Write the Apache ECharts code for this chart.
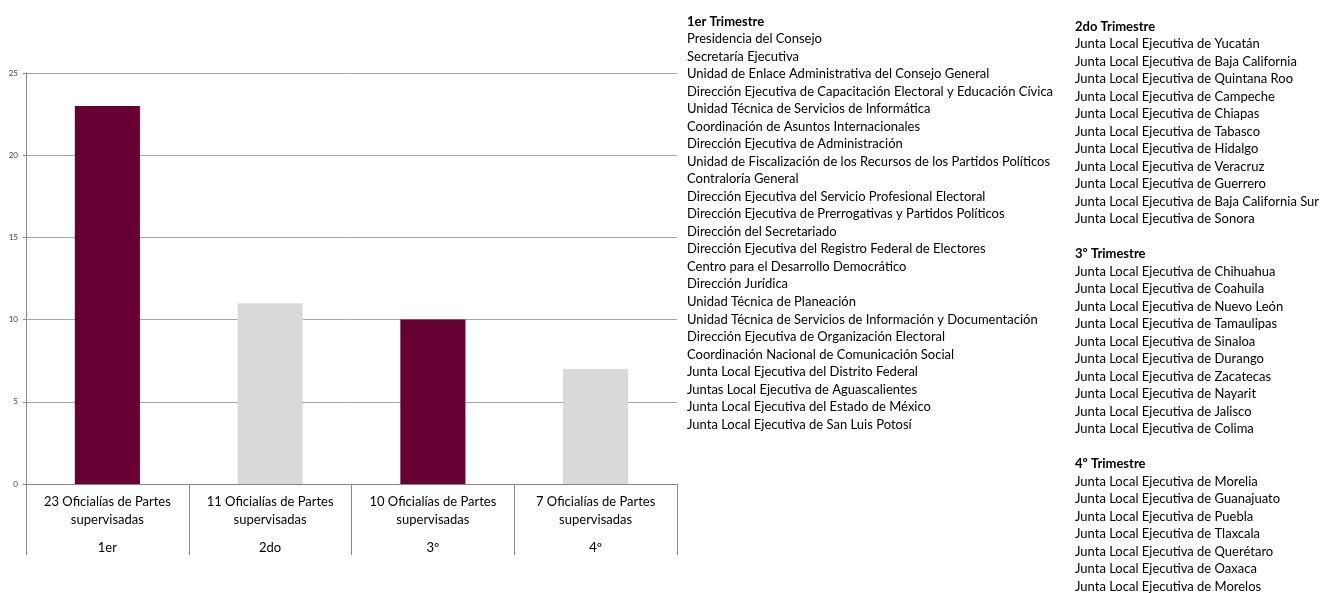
<!DOCTYPE html>
<html>
<head>
<meta charset="utf-8">
<script src="https://cdn.jsdelivr.net/npm/echarts@6/dist/echarts.min.js"></script>
<style>
html,body{margin:0;padding:0;background:#fff;}
#chart{width:1325px;height:593px;}
</style>
</head>
<body>
<div id="chart"></div>
<script>
// ---- Data ----
const quarters = ['1er', '2do', '3º', '4º'];
const supervised = [23, 11, 10, 7];
const barCaption = 'Oficialías de Partes';
const barCaption2 = 'supervisadas';
const yTicks = [0, 5, 10, 15, 20, 25];

const q1Title = '1er Trimestre';
const q1Units = [
  'Presidencia del Consejo',
  'Secretaría Ejecutiva',
  'Unidad de Enlace Administrativa del Consejo General',
  'Dirección Ejecutiva de Capacitación Electoral y Educación Cívica',
  'Unidad Técnica de Servicios de Informática',
  'Coordinación de Asuntos Internacionales',
  'Dirección Ejecutiva de Administración',
  'Unidad de Fiscalización de los Recursos de los Partidos Políticos',
  'Contraloría General',
  'Dirección Ejecutiva del Servicio Profesional Electoral',
  'Dirección Ejecutiva de Prerrogativas y Partidos Políticos',
  'Dirección del Secretariado',
  'Dirección Ejecutiva del Registro Federal de Electores',
  'Centro para el Desarrollo Democrático',
  'Dirección Jurídica',
  'Unidad Técnica de Planeación',
  'Unidad Técnica de Servicios de Información y Documentación',
  'Dirección Ejecutiva de Organización Electoral',
  'Coordinación Nacional de Comunicación Social',
  'Junta Local Ejecutiva del Distrito Federal',
  'Juntas Local Ejecutiva de Aguascalientes',
  'Junta Local Ejecutiva del Estado de México',
  'Junta Local Ejecutiva de San Luis Potosí'
];
const q2Title = '2do Trimestre';
const q2Units = [
  'Junta Local Ejecutiva de Yucatán',
  'Junta Local Ejecutiva de Baja California',
  'Junta Local Ejecutiva de Quintana Roo',
  'Junta Local Ejecutiva de Campeche',
  'Junta Local Ejecutiva de Chiapas',
  'Junta Local Ejecutiva de Tabasco',
  'Junta Local Ejecutiva de Hidalgo',
  'Junta Local Ejecutiva de Veracruz',
  'Junta Local Ejecutiva de Guerrero',
  'Junta Local Ejecutiva de Baja California Sur',
  'Junta Local Ejecutiva de Sonora'
];
const q3Title = '3º Trimestre';
const q3Units = [
  'Junta Local Ejecutiva de Chihuahua',
  'Junta Local Ejecutiva de Coahuila',
  'Junta Local Ejecutiva de Nuevo León',
  'Junta Local Ejecutiva de Tamaulipas',
  'Junta Local Ejecutiva de Sinaloa',
  'Junta Local Ejecutiva de Durango',
  'Junta Local Ejecutiva de Zacatecas',
  'Junta Local Ejecutiva de Nayarit',
  'Junta Local Ejecutiva de Jalisco',
  'Junta Local Ejecutiva de Colima'
];
const q4Title = '4º Trimestre';
const q4Units = [
  'Junta Local Ejecutiva de Morelia',
  'Junta Local Ejecutiva de Guanajuato',
  'Junta Local Ejecutiva de Puebla',
  'Junta Local Ejecutiva de Tlaxcala',
  'Junta Local Ejecutiva de Querétaro',
  'Junta Local Ejecutiva de Oaxaca',
  'Junta Local Ejecutiva de Morelos'
];

// ---- Styles ----
const FONT = 'Lato';
const TXT_SIZE = 13;
const barColors = ['#660033', '#d9d9d9'];

function listItems(lines, x, y0, step) {
  const out = [];
  lines.forEach((ln, i) => {
    if (ln === null) return;
    out.push({
      type: 'text', left: x, top: y0 + i * step - 7,
      style: {
        text: ln.text, fill: '#000',
        font: (ln.bold ? 'bold ' : '') + TXT_SIZE + 'px ' + FONT
      }
    });
  });
  return out;
}
const col1 = [{text: q1Title, bold: true}].concat(q1Units.map(t => ({text: t})));
const col2 = [{text: q2Title, bold: true}].concat(q2Units.map(t => ({text: t})), [null],
  [{text: q3Title, bold: true}], q3Units.map(t => ({text: t})), [null],
  [{text: q4Title, bold: true}], q4Units.map(t => ({text: t})));

const chart = echarts.init(document.getElementById('chart'));
chart.setOption({
  animation: false,
  backgroundColor: '#fff',
  grid: {left: 26, right: 648, top: 73, bottom: 109, containLabel: false},
  xAxis: {
    type: 'category',
    data: quarters,
    boundaryGap: true,
    axisLine: {lineStyle: {color: '#868686', width: 1}},
    axisTick: {show: true, interval: 0, length: 71, lineStyle: {color: '#868686'}},
    axisLabel: {
      interval: 0, margin: 9,
      formatter: (v, i) => '{a|' + supervised[i] + ' ' + barCaption + '}\n{a|' + barCaption2 + '}\n{b|' + v + '}',
      rich: {
        a: {fontFamily: FONT, fontSize: TXT_SIZE, color: '#000', lineHeight: 18, align: 'center'},
        b: {fontFamily: FONT, fontSize: TXT_SIZE, color: '#000', lineHeight: 38, align: 'center'}
      }
    }
  },
  yAxis: {
    type: 'value', min: 0, max: 25, interval: 5,
    axisLine: {show: true, lineStyle: {color: '#868686'}},
    axisTick: {show: true, length: 3, lineStyle: {color: '#868686'}},
    axisLabel: {fontFamily: FONT, fontSize: 8, color: '#404040', margin: 8,
      formatter: v => yTicks.includes(v) ? String(v) : ''},
    splitLine: {show: true, lineStyle: {color: '#a6a6a6', width: 1}}
  },
  series: [{
    type: 'bar',
    data: supervised,
    barWidth: '40%',
    itemStyle: {color: p => barColors[p.dataIndex % 2]}
  }],
  graphic: listItems(col1, 687, 22, 17.52).concat(listItems(col2, 1075, 27, 17.5))
});
</script>
</body>
</html>
